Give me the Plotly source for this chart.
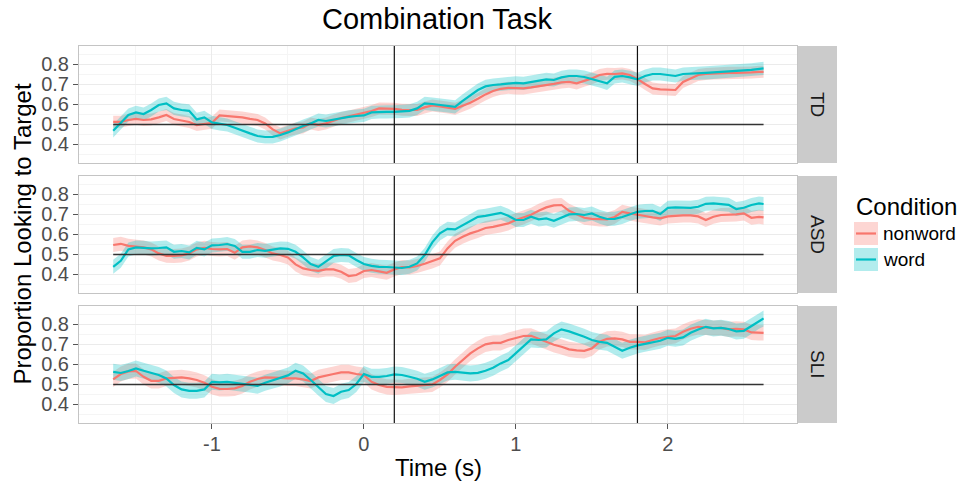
import plotly.graph_objects as go

# ---------------- data ----------------
time_s = [-1.65, -1.60, -1.55, -1.50, -1.45, -1.40, -1.35, -1.30, -1.25, -1.20,
          -1.15, -1.10, -1.05, -1.00, -0.95, -0.90, -0.85, -0.80, -0.75, -0.70,
          -0.65, -0.60, -0.55, -0.50, -0.45, -0.40, -0.35, -0.30, -0.25, -0.20,
          -0.15, -0.10, -0.05, 0.00, 0.05, 0.10, 0.15, 0.20, 0.25, 0.30,
          0.35, 0.40, 0.45,
          0.50, 0.55, 0.60, 0.65, 0.70, 0.75, 0.80, 0.85, 0.90, 0.95,
          1.00, 1.05, 1.10, 1.15, 1.20, 1.25, 1.30, 1.35, 1.40, 1.45,
          1.50, 1.55, 1.60, 1.65, 1.70, 1.75, 1.80, 1.85, 1.90, 1.95,
          2.00, 2.05, 2.10, 2.15, 2.20, 2.25, 2.30, 2.35, 2.40, 2.45,
          2.50, 2.55, 2.60, 2.63]

groups = ["TD", "ASD", "SLI"]
conditions = ["nonword", "word"]

td_nonword = [0.513, 0.513, 0.522, 0.528, 0.522, 0.525, 0.535, 0.547, 0.527, 0.518,
              0.512, 0.497, 0.502, 0.508, 0.545, 0.542, 0.538, 0.535, 0.528, 0.522,
              0.505, 0.475, 0.455, 0.468, 0.480, 0.485, 0.505, 0.497, 0.505, 0.518,
              0.532, 0.540, 0.548, 0.557, 0.567, 0.580, 0.580, 0.578, 0.573, 0.572,
              0.572, 0.585, 0.595,
              0.590, 0.585, 0.578, 0.593, 0.608, 0.628, 0.650, 0.667, 0.678, 0.683,
              0.680, 0.680, 0.685, 0.690, 0.697, 0.703, 0.710, 0.713, 0.705, 0.718,
              0.730, 0.747, 0.753, 0.752, 0.755, 0.747, 0.727, 0.702, 0.680, 0.675,
              0.675, 0.672, 0.712, 0.730, 0.747, 0.752, 0.755, 0.755, 0.758, 0.758,
              0.758, 0.760, 0.763, 0.763]
td_word = [0.468, 0.508, 0.547, 0.560, 0.552, 0.572, 0.597, 0.605, 0.580, 0.572,
           0.568, 0.525, 0.535, 0.510, 0.502, 0.497, 0.483, 0.468, 0.455, 0.442,
           0.437, 0.438, 0.447, 0.460, 0.477, 0.492, 0.505, 0.522, 0.517, 0.525,
           0.530, 0.538, 0.542, 0.545, 0.560, 0.563, 0.563, 0.563, 0.565, 0.568,
           0.580, 0.605, 0.602,
           0.598, 0.593, 0.588, 0.618, 0.647, 0.672, 0.690, 0.697, 0.700, 0.705,
           0.708, 0.705, 0.712, 0.718, 0.725, 0.722, 0.735, 0.742, 0.742, 0.737,
           0.727, 0.718, 0.705, 0.738, 0.742, 0.735, 0.725, 0.742, 0.752, 0.752,
           0.748, 0.742, 0.752, 0.755, 0.758, 0.758, 0.760, 0.762, 0.763, 0.767,
           0.770, 0.773, 0.778, 0.780]
asd_nonword = [0.547, 0.553, 0.543, 0.538, 0.535, 0.525, 0.505, 0.493, 0.492, 0.495,
               0.505, 0.525, 0.533, 0.527, 0.525, 0.527, 0.508, 0.535, 0.540, 0.535,
               0.522, 0.505, 0.497, 0.485, 0.450, 0.430, 0.422, 0.418, 0.425, 0.425,
               0.413, 0.392, 0.397, 0.417, 0.422, 0.415, 0.408, 0.425, 0.437, 0.435,
               0.442, 0.453, 0.465,
               0.480, 0.530, 0.568, 0.588, 0.605, 0.617, 0.632, 0.638, 0.645, 0.655,
               0.672, 0.685, 0.698, 0.718, 0.735, 0.745, 0.747, 0.718, 0.702, 0.683,
               0.678, 0.675, 0.675, 0.687, 0.713, 0.705, 0.697, 0.692, 0.685, 0.680,
               0.690, 0.693, 0.695, 0.695, 0.690, 0.672, 0.688, 0.697, 0.697, 0.700,
               0.705, 0.683, 0.688, 0.685]
asd_word = [0.438, 0.468, 0.525, 0.535, 0.533, 0.530, 0.532, 0.535, 0.513, 0.517,
            0.510, 0.533, 0.525, 0.545, 0.547, 0.552, 0.542, 0.513, 0.513, 0.522,
            0.518, 0.525, 0.530, 0.528, 0.513, 0.485, 0.452, 0.438, 0.463, 0.492,
            0.497, 0.495, 0.472, 0.452, 0.443, 0.438, 0.437, 0.433, 0.432, 0.438,
            0.455, 0.497, 0.560,
            0.605, 0.628, 0.625, 0.645, 0.668, 0.688, 0.693, 0.700, 0.708, 0.693,
            0.672, 0.672, 0.688, 0.675, 0.680, 0.668, 0.685, 0.700, 0.702, 0.697,
            0.705, 0.688, 0.677, 0.678, 0.687, 0.702, 0.713, 0.717, 0.718, 0.702,
            0.733, 0.735, 0.735, 0.733, 0.738, 0.753, 0.755, 0.752, 0.748, 0.727,
            0.733, 0.747, 0.755, 0.752]
sli_nonword = [0.525, 0.552, 0.565, 0.567, 0.538, 0.518, 0.518, 0.530, 0.533, 0.535,
               0.530, 0.522, 0.508, 0.488, 0.478, 0.477, 0.480, 0.492, 0.513, 0.527,
               0.535, 0.535, 0.533, 0.530, 0.530, 0.525, 0.517, 0.535, 0.542, 0.552,
               0.560, 0.560, 0.552, 0.547, 0.513, 0.497, 0.488, 0.485, 0.485, 0.490,
               0.493, 0.497, 0.500,
               0.522, 0.550, 0.588, 0.622, 0.655, 0.680, 0.700, 0.708, 0.708, 0.722,
               0.733, 0.742, 0.743, 0.728, 0.712, 0.698, 0.688, 0.675, 0.670, 0.668,
               0.680, 0.713, 0.728, 0.730, 0.725, 0.713, 0.713, 0.710, 0.722, 0.732,
               0.738, 0.742, 0.763, 0.778, 0.788, 0.785, 0.782, 0.783, 0.775, 0.778,
               0.775, 0.760, 0.757, 0.758]
sli_word = [0.563, 0.557, 0.567, 0.580, 0.568, 0.558, 0.547, 0.530, 0.497, 0.475,
            0.468, 0.468, 0.475, 0.513, 0.510, 0.513, 0.508, 0.503, 0.500, 0.493,
            0.508, 0.520, 0.530, 0.545, 0.568, 0.555, 0.522, 0.485, 0.452, 0.442,
            0.463, 0.472, 0.502, 0.552, 0.538, 0.538, 0.542, 0.550, 0.547, 0.538,
            0.528, 0.513, 0.525,
            0.542, 0.560, 0.563, 0.560, 0.555, 0.558, 0.568, 0.583, 0.605, 0.622,
            0.655, 0.692, 0.725, 0.722, 0.725, 0.755, 0.775, 0.765, 0.752, 0.738,
            0.722, 0.713, 0.708, 0.688, 0.668, 0.683, 0.695, 0.703, 0.712, 0.718,
            0.733, 0.728, 0.735, 0.758, 0.775, 0.788, 0.780, 0.783, 0.777, 0.765,
            0.768, 0.792, 0.818, 0.830]

# standard-error half widths of ribbons, per group (TD, ASD, SLI)
se_nonword = [0.030, 0.035, 0.038]
se_word = [0.033, 0.035, 0.040]

chance = 0.5
event_times = [0.2, 1.8]
x_ticks = [-1, 0, 1, 2]
x_ticktext = ["-1", "0", "1", "2"]
x_minor = [-1.5, -0.5, 0.5, 1.5, 2.5]
y_ticks = [0.4, 0.5, 0.6, 0.7, 0.8]
y_ticktext = ["0.4", "0.5", "0.6", "0.7", "0.8"]
y_minor = [0.35, 0.45, 0.55, 0.65, 0.75, 0.85]

series = {
    "TD": {"nonword": td_nonword, "word": td_word},
    "ASD": {"nonword": asd_nonword, "word": asd_word},
    "SLI": {"nonword": sli_nonword, "word": sli_word},
}
se = {"nonword": se_nonword, "word": se_word}

# ---------------- style ----------------
W, H = 969, 491
FONT = "Liberation Sans, Arial, Helvetica, sans-serif"
line_col = {"nonword": "#F8766D", "word": "#00BFC4"}
fill_col = {"nonword": "rgba(248,118,109,0.30)", "word": "rgba(0,191,196,0.30)"}

x_left, x_right = 79, 797
panel_top = [46, 176, 306]
panel_bot = [163, 293, 423]
x_range = [-1.875, 2.85]
y_range = [0.307, 0.892]


def fx(p):
    return p / W


def fy(p):
    return 1 - p / H


fig = go.Figure()

for i, g in enumerate(groups):
    sfx = "" if i == 0 else str(i + 1)
    xa, ya = "x" + sfx, "y" + sfx
    # ribbons
    for c in conditions:
        vals = series[g][c]
        s = se[c][i]
        upper = [v + s for v in vals]
        lower = [v - s for v in vals]
        fig.add_trace(go.Scatter(
            x=time_s + time_s[::-1], y=upper + lower[::-1],
            fill="toself", fillcolor=fill_col[c], line=dict(width=0),
            mode="lines", hoverinfo="skip", showlegend=False,
            xaxis=xa, yaxis=ya))
    # mean lines
    for c in conditions:
        fig.add_trace(go.Scatter(
            x=time_s, y=series[g][c], mode="lines",
            line=dict(color=line_col[c], width=2.2),
            showlegend=False, xaxis=xa, yaxis=ya))
    # chance line over data range
    fig.add_trace(go.Scatter(
        x=[time_s[0], time_s[-1]], y=[chance, chance], mode="lines",
        line=dict(color="#333333", width=1.5), showlegend=False,
        xaxis=xa, yaxis=ya))

layout = dict(
    width=W, height=H, autosize=False,
    margin=dict(l=0, r=0, t=0, b=0),
    paper_bgcolor="white", plot_bgcolor="white",
    font=dict(family=FONT, color="#000000"),
    showlegend=False, hovermode=False,
)

shapes = []
annotations = []


def label(text, x, y, size, angle=0, xanchor="center", color="#000000"):
    annotations.append(dict(text=text, xref="paper", yref="paper", x=x, y=y,
                            xanchor=xanchor, yanchor="middle", showarrow=False,
                            textangle=angle,
                            font=dict(size=size, color=color, family=FONT)))


for i, g in enumerate(groups):
    sfx = "" if i == 0 else str(i + 1)
    last = i == len(groups) - 1
    layout["xaxis" + sfx] = dict(
        domain=[fx(x_left), fx(x_right)], range=x_range, anchor="y" + sfx,
        tickvals=x_ticks, ticktext=x_ticktext, showticklabels=last,
        ticks="outside" if last else "", ticklen=5, tickcolor="#555555",
        ticklabelstandoff=-2,
        tickfont=dict(size=20, color="#4d4d4d", family=FONT),
        showgrid=True, gridcolor="#ebebeb", gridwidth=1,
        minor=dict(tickvals=x_minor, showgrid=True, gridcolor="#f5f5f5", gridwidth=1),
        showline=True, mirror=True, linecolor="#c4c4c4", linewidth=1,
        zeroline=False, fixedrange=True,
    )
    layout["yaxis" + sfx] = dict(
        domain=[fy(panel_bot[i]), fy(panel_top[i])], range=y_range,
        anchor="x" + sfx,
        tickvals=y_ticks, ticktext=y_ticktext, ticks="outside", ticklen=5,
        tickcolor="#555555", ticklabelstandoff=0,
        tickfont=dict(size=20, color="#4d4d4d", family=FONT),
        showgrid=True, gridcolor="#ebebeb", gridwidth=1,
        minor=dict(tickvals=y_minor, showgrid=True, gridcolor="#f5f5f5", gridwidth=1),
        showline=True, mirror=True, linecolor="#c4c4c4", linewidth=1,
        zeroline=False, fixedrange=True,
    )
    # event lines
    for t in event_times:
        shapes.append(dict(type="line", xref="x" + sfx, yref="y" + sfx + " domain",
                           x0=t, x1=t, y0=0, y1=1,
                           line=dict(color="#111111", width=1.2), layer="above"))
    # strip
    shapes.append(dict(type="rect", xref="paper", yref="paper",
                       x0=fx(798), x1=fx(837), y0=fy(panel_bot[i]), y1=fy(panel_top[i]),
                       fillcolor="#cbcbcb", line=dict(width=0), layer="below"))
    label(g, fx(817.5), fy((panel_top[i] + panel_bot[i]) / 2), 19, angle=90,
          color="#1a1a1a")

# titles
label("Combination Task", fx(437), fy(19), 29)
label("Proportion Looking to Target", fx(22), fy(234.5), 24, angle=-90)
label("Time (s)", fx(438), fy(467), 24)

# manual legend
label("Condition", fx(854), fy(207), 24, xanchor="left")
key_tops = [222, 248]
for k, c in enumerate(conditions):
    top = key_tops[k]
    bot = top + 23
    mid = (top + bot) / 2
    shapes.append(dict(type="rect", xref="paper", yref="paper",
                       x0=fx(854), x1=fx(878), y0=fy(bot), y1=fy(top),
                       fillcolor=fill_col[c], line=dict(width=0)))
    shapes.append(dict(type="line", xref="paper", yref="paper",
                       x0=fx(856), x1=fx(876), y0=fy(mid), y1=fy(mid),
                       line=dict(color=line_col[c], width=2.2)))
    label(c, fx(881), fy(mid), 19, xanchor="left")

layout["shapes"] = shapes
layout["annotations"] = annotations
fig.update_layout(**layout)

fig.write_html("out.html")
